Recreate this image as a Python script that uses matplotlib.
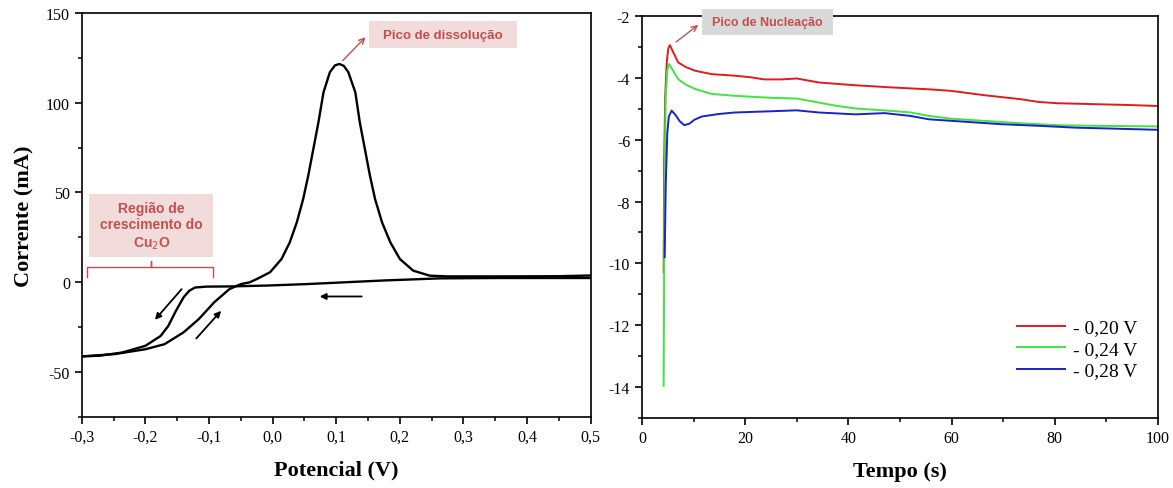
import matplotlib
matplotlib.use('Agg')
import matplotlib.pyplot as plt
from matplotlib.patches import Rectangle
from matplotlib.ticker import MultipleLocator, FuncFormatter

# voltametria ciclica: varredura de ida (-0,3 -> 0,5 V)
v_ida = [-0.300, -0.248, -0.200, -0.170, -0.140, -0.116, -0.092, -0.068, -0.050, -0.036,
         -0.025, -0.004, 0.014, 0.027, 0.038, 0.048, 0.056, 0.064, 0.072, 0.080,
         0.090, 0.098, 0.105, 0.112, 0.119, 0.130, 0.137, 0.145, 0.153, 0.161,
         0.172, 0.185, 0.200, 0.221, 0.247, 0.275, 0.353, 0.450, 0.500]
i_ida = [-41.4, -40.1, -37.4, -34.6, -28.0, -20.6, -11.3, -3.9, -1.1, -0.1,
         1.7, 5.5, 12.9, 22.2, 33.3, 46.3, 59.3, 74.2, 89.1, 105.8,
         117.0, 120.8, 121.6, 120.5, 117.0, 105.8, 89.1, 74.2, 59.3, 46.3,
         33.3, 22.2, 12.9, 6.4, 3.6, 3.2, 3.2, 3.3, 3.7]
# varredura de volta (0,5 -> -0,3 V)
v_volta = [0.500, 0.353, 0.263, 0.173, 0.113, 0.053, -0.008, -0.068, -0.104, -0.122,
           -0.131, -0.140, -0.152, -0.164, -0.176, -0.200, -0.236, -0.272, -0.300]
i_volta = [2.3, 2.3, 2.1, 0.9, -0.1, -1.1, -1.9, -2.4, -2.5, -3.0,
           -4.8, -8.5, -16.0, -24.4, -30.0, -35.5, -39.2, -41.0, -41.4]

# cronoamperometria
t_020 = [4.2, 4.3, 4.5, 4.8, 5.1, 5.4, 6.0, 7.0, 8.5, 10.3, 13.5, 18.0, 21.0, 23.7, 27.0,
         30.0, 34.3, 41.4, 48.5, 55.6, 59.9, 66.3, 73.4, 76.9, 80.5, 87.6, 94.7, 100.0]
i_020 = [-10.3, -6.7, -4.6, -3.5, -3.05, -2.94, -3.15, -3.5, -3.65, -3.77, -3.88, -3.93, -3.98, -4.05, -4.05,
         -4.02, -4.15, -4.24, -4.31, -4.37, -4.42, -4.56, -4.69, -4.78, -4.82, -4.85, -4.88, -4.91]
t_024 = [4.2, 4.35, 4.6, 4.9, 5.23, 5.8, 7.0, 8.5, 10.3, 13.5, 18.0, 20.1, 24.4, 30.0, 34.3,
         37.9, 41.4, 48.5, 52.1, 55.6, 59.9, 66.3, 73.4, 80.5, 87.6, 100.0]
i_024 = [-13.96, -8.0, -4.6, -3.75, -3.55, -3.7, -4.04, -4.22, -4.36, -4.52, -4.58, -4.6, -4.64, -4.67, -4.80,
         -4.91, -4.99, -5.07, -5.12, -5.23, -5.32, -5.39, -5.47, -5.53, -5.55, -5.57]
t_028 = [4.4, 4.6, 4.9, 5.2, 5.75, 6.5, 7.3, 8.2, 9.2, 10.2, 11.6, 14.8, 18.0, 25.0, 30.0, 34.3,
         41.4, 47.0, 52.0, 55.6, 62.7, 69.8, 76.9, 84.0, 91.1, 100.0]
i_028 = [-9.8, -7.5, -5.8, -5.25, -5.06, -5.2, -5.4, -5.53, -5.48, -5.35, -5.25, -5.17, -5.12, -5.08, -5.05, -5.12,
         -5.18, -5.14, -5.23, -5.34, -5.42, -5.50, -5.55, -5.61, -5.64, -5.68]
rotulos = ['- 0,20 V', '- 0,24 V', '- 0,28 V']

serif = 'Liberation Serif'
sans = 'Liberation Sans'
txt_red = '#c0504d'

fig = plt.figure(figsize=(11.73, 4.89), dpi=100)
ax1 = fig.add_axes([0.0697, 0.1458, 0.4339, 0.8256])
ax2 = fig.add_axes([0.5473, 0.1431, 0.4399, 0.8221])


def virgula(x, pos):
    return ('%.1f' % x).replace('.', ',')


for ax in (ax1, ax2):
    for s in ax.spines.values():
        s.set_linewidth(1.2)
    ax.tick_params(which='major', direction='out', length=5, width=1.2,
                   labelsize=11.5, top=False, right=False)
    ax.tick_params(which='minor', direction='out', length=3, width=1.1,
                   top=False, right=False)
    for lab in ax.get_xticklabels() + ax.get_yticklabels():
        lab.set_fontfamily(serif)

# ---- painel esquerdo
ax1.plot(v_ida, i_ida, color='black', lw=1.7)
ax1.plot(v_volta, i_volta, color='black', lw=1.7)
ax1.set_xlim(-0.3, 0.5)
ax1.set_ylim(-75, 150)
ax1.xaxis.set_major_locator(MultipleLocator(0.1))
ax1.xaxis.set_minor_locator(MultipleLocator(0.05))
ax1.yaxis.set_major_locator(MultipleLocator(50))
ax1.yaxis.set_minor_locator(MultipleLocator(25))
ax1.xaxis.set_major_formatter(FuncFormatter(virgula))
ax1.yaxis.set_major_formatter(FuncFormatter(lambda x, p: '%d' % x))
ax1.set_xlabel('Potencial (V)', fontfamily=serif, fontweight='bold', fontsize=16, labelpad=11)
ax1.set_ylabel('Corrente (mA)', fontfamily=serif, fontweight='bold', fontsize=16, labelpad=8)

arr = dict(arrowstyle='-|>', color='black', lw=1.3, mutation_scale=9, shrinkA=0, shrinkB=0)
ax1.annotate('', xy=(0.074, -8), xytext=(0.14, -8), arrowprops=arr)
ax1.annotate('', xy=(-0.185, -21), xytext=(-0.143, -3.9), arrowprops=arr)
ax1.annotate('', xy=(-0.081, -16), xytext=(-0.12, -31.4), arrowprops=arr)

ax1.annotate('', xy=(0.146, 136.5), xytext=(0.110, 123.4),
             arrowprops=dict(arrowstyle='->', color=txt_red, lw=1, shrinkA=0, shrinkB=0))
ax1.add_patch(Rectangle((0.152, 130.5), 0.232, 15, fc='#f2dcdb', ec='none'))
ax1.text(0.268, 138, 'Pico de dissolução', ha='center', va='center', color=txt_red,
         fontfamily=sans, fontweight='bold', fontsize=9.5)
ax1.add_patch(Rectangle((-0.288, 14), 0.195, 35.1, fc='#f2dcdb', ec='none'))
ax1.text(-0.1905, 31.5, 'Região de\ncrescimento do\nCu$_2$O', ha='center', va='center',
         color=txt_red, fontfamily=sans, fontweight='bold', fontsize=10, linespacing=1.25)
ax1.plot([-0.2925, -0.2925, -0.191, -0.191, -0.191, -0.0936, -0.0936],
         [2.8, 8.4, 8.4, 11.8, 8.4, 8.4, 2.8], color=txt_red, lw=1)

# ---- painel direito
ax2.plot(t_020, i_020, color='#e01b1b', lw=1.4, label=rotulos[0])
ax2.plot(t_024, i_024, color='#3fe63f', lw=1.4, label=rotulos[1])
ax2.plot(t_028, i_028, color='#1a22c8', lw=1.4, label=rotulos[2])
ax2.set_xlim(0, 100)
ax2.set_ylim(-15, -2)
ax2.xaxis.set_major_locator(MultipleLocator(20))
ax2.xaxis.set_minor_locator(MultipleLocator(10))
ax2.yaxis.set_major_locator(MultipleLocator(2))
ax2.yaxis.set_minor_locator(MultipleLocator(1))
ax2.yaxis.set_major_formatter(FuncFormatter(lambda x, p: '%d' % x))
ax2.set_xlabel('Tempo (s)', fontfamily=serif, fontweight='bold', fontsize=16, labelpad=11)
leg = ax2.legend(loc='upper left', bbox_to_anchor=(0.711, 0.266), borderaxespad=0,
                 frameon=False, prop={'family': serif, 'size': 14}, handlelength=2.5,
                 labelspacing=0.2, handletextpad=0.4)

ax2.annotate('', xy=(10.9, -2.29), xytext=(6.6, -2.84),
             arrowprops=dict(arrowstyle='->', color=txt_red, lw=1, shrinkA=0, shrinkB=0))
ax2.add_patch(Rectangle((11.6, -2.61), 25.4, 0.84, fc='#d9d9d9', ec='none',
                        clip_on=False, zorder=5))
ax2.text(24.3, -2.19, 'Pico de Nucleação', ha='center', va='center', color=txt_red,
         fontfamily=sans, fontweight='bold', fontsize=9, zorder=6)

fig.savefig('out.png', dpi=100)
